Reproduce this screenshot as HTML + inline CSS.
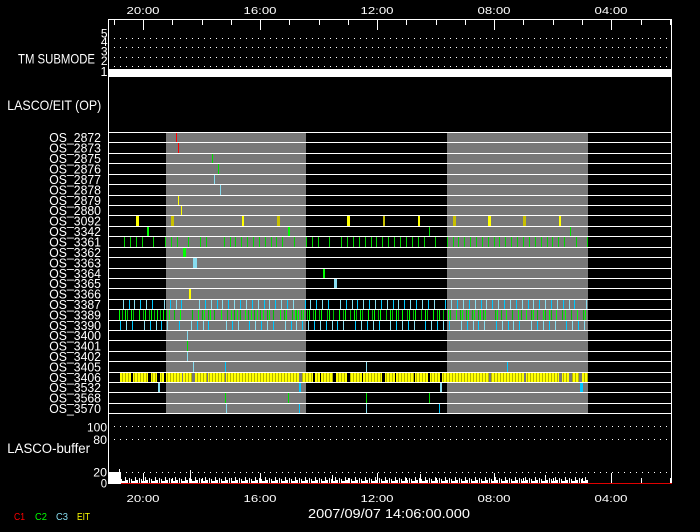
<!DOCTYPE html>
<html><head><meta charset="utf-8"><style>
html,body{margin:0;padding:0;background:#000;width:700px;height:532px;overflow:hidden}
svg{display:block}
text{font-family:"Liberation Sans",sans-serif;fill:#fff}
</style></head><body>
<svg width="700" height="532" viewBox="0 0 700 532" xmlns="http://www.w3.org/2000/svg">
<defs>
<pattern id="yp" x="0" y="0" width="3" height="20" patternUnits="userSpaceOnUse">
<rect x="0" y="0" width="2" height="20" fill="#ffff00"/><rect x="2" y="0" width="1" height="20" fill="#b4b400"/>
</pattern>
<pattern id="bp" x="121" y="476" width="10" height="7" patternUnits="userSpaceOnUse">
<rect x="0" y="3" width="1" height="4" fill="#fff"/>
<rect x="1" y="5" width="3" height="2" fill="#fff"/>
<rect x="4" y="1" width="1" height="6" fill="#fff"/>
<rect x="5" y="4" width="2" height="3" fill="#fff"/>
<rect x="8" y="2" width="1" height="5" fill="#fff"/>
</pattern>
</defs>
<rect width="700" height="532" fill="#000"/>

<!-- top tick labels -->
<text x="143" y="14" font-size="10.5" text-anchor="middle" textLength="33" lengthAdjust="spacingAndGlyphs">20:00</text>
<text x="260" y="14" font-size="10.5" text-anchor="middle" textLength="33" lengthAdjust="spacingAndGlyphs">16:00</text>
<text x="377" y="14" font-size="10.5" text-anchor="middle" textLength="33" lengthAdjust="spacingAndGlyphs">12:00</text>
<text x="494" y="14" font-size="10.5" text-anchor="middle" textLength="33" lengthAdjust="spacingAndGlyphs">08:00</text>
<text x="611" y="14" font-size="10.5" text-anchor="middle" textLength="33" lengthAdjust="spacingAndGlyphs">04:00</text>

<!-- frame -->
<rect x="108" y="19" width="564" height="1" fill="#fff"/>
<rect x="108" y="19" width="1" height="465" fill="#fff"/>
<rect x="671" y="19" width="1" height="465" fill="#fff"/>

<!-- top ticks -->
<path d="M143.5 20V30M260.5 20V30M377.5 20V30M494.5 20V30M611.5 20V30" stroke="#fff" stroke-width="1"/>
<path d="M114.5 20V25M172.5 20V25M202.5 20V25M231.5 20V25M289.5 20V25M319.5 20V25M348.5 20V25M406.5 20V25M436.5 20V25M465.5 20V25M523.5 20V25M553.5 20V25M582.5 20V25M641.5 20V25M670.5 20V25" stroke="#fff" stroke-width="1"/>

<!-- TM SUBMODE -->
<text x="18" y="63.3" font-size="13.5" textLength="77" lengthAdjust="spacingAndGlyphs">TM SUBMODE</text>
<text x="107.5" y="37.5" font-size="12" text-anchor="end">5</text>
<text x="107.5" y="46" font-size="12" text-anchor="end">4</text>
<text x="107.5" y="55.5" font-size="12" text-anchor="end">3</text>
<text x="107.5" y="65" font-size="12" text-anchor="end">2</text>
<text x="107.5" y="76" font-size="12.5" text-anchor="end">1</text>
<g stroke="#fff" stroke-width="1" stroke-dasharray="1 5">
<line x1="114" y1="38.5" x2="668" y2="38.5"/>
<line x1="114" y1="47.5" x2="668" y2="47.5"/>
<line x1="114" y1="57.5" x2="668" y2="57.5"/>
<line x1="114" y1="66.5" x2="668" y2="66.5"/>
</g>
<rect x="108" y="69" width="564" height="8" fill="#fff"/>

<text x="7.3" y="110" font-size="14" textLength="94" lengthAdjust="spacingAndGlyphs">LASCO/EIT (OP)</text>

<!-- gray shading -->
<rect x="166" y="132" width="140" height="281" fill="#787878"/>
<rect x="447" y="132" width="141" height="281" fill="#787878"/>

<!-- row lines -->
<path stroke="#fff" stroke-width="1" d="M108 132.5H671M108 142.5H671M108 153.5H671M108 163.5H671M108 174.5H671M108 184.5H671M108 195.5H671M108 205.5H671M108 215.5H671M108 226.5H671M108 236.5H671M108 247.5H671M108 257.5H671M108 268.5H671M108 278.5H671M108 288.5H671M108 299.5H671M108 309.5H671M108 320.5H671M108 330.5H671M108 340.5H671M108 351.5H671M108 361.5H671M108 372.5H671M108 382.5H671M108 392.5H671M108 403.5H671M108 413.5H671"/>

<!-- OS labels -->
<g font-size="12.5" text-anchor="end">
<text x="101" y="142" textLength="51.7" lengthAdjust="spacingAndGlyphs">OS_2872</text>
<text x="101" y="152.5" textLength="51.7" lengthAdjust="spacingAndGlyphs">OS_2873</text>
<text x="101" y="163" textLength="51.7" lengthAdjust="spacingAndGlyphs">OS_2875</text>
<text x="101" y="173.5" textLength="51.7" lengthAdjust="spacingAndGlyphs">OS_2876</text>
<text x="101" y="184" textLength="51.7" lengthAdjust="spacingAndGlyphs">OS_2877</text>
<text x="101" y="194.5" textLength="51.7" lengthAdjust="spacingAndGlyphs">OS_2878</text>
<text x="101" y="205" textLength="51.7" lengthAdjust="spacingAndGlyphs">OS_2879</text>
<text x="101" y="215" textLength="51.7" lengthAdjust="spacingAndGlyphs">OS_2880</text>
<text x="101" y="225.5" textLength="51.7" lengthAdjust="spacingAndGlyphs">OS_3092</text>
<text x="101" y="236" textLength="51.7" lengthAdjust="spacingAndGlyphs">OS_3342</text>
<text x="101" y="246.5" textLength="51.7" lengthAdjust="spacingAndGlyphs">OS_3361</text>
<text x="101" y="257" textLength="51.7" lengthAdjust="spacingAndGlyphs">OS_3362</text>
<text x="101" y="267.5" textLength="51.7" lengthAdjust="spacingAndGlyphs">OS_3363</text>
<text x="101" y="278" textLength="51.7" lengthAdjust="spacingAndGlyphs">OS_3364</text>
<text x="101" y="288" textLength="51.7" lengthAdjust="spacingAndGlyphs">OS_3365</text>
<text x="101" y="298.5" textLength="51.7" lengthAdjust="spacingAndGlyphs">OS_3366</text>
<text x="101" y="309" textLength="51.7" lengthAdjust="spacingAndGlyphs">OS_3387</text>
<text x="101" y="319.5" textLength="51.7" lengthAdjust="spacingAndGlyphs">OS_3389</text>
<text x="101" y="330" textLength="51.7" lengthAdjust="spacingAndGlyphs">OS_3390</text>
<text x="101" y="340" textLength="51.7" lengthAdjust="spacingAndGlyphs">OS_3400</text>
<text x="101" y="350.5" textLength="51.7" lengthAdjust="spacingAndGlyphs">OS_3401</text>
<text x="101" y="361" textLength="51.7" lengthAdjust="spacingAndGlyphs">OS_3402</text>
<text x="101" y="371.5" textLength="51.7" lengthAdjust="spacingAndGlyphs">OS_3405</text>
<text x="101" y="382" textLength="51.7" lengthAdjust="spacingAndGlyphs">OS_3406</text>
<text x="101" y="392" textLength="51.7" lengthAdjust="spacingAndGlyphs">OS_3532</text>
<text x="101" y="402.5" textLength="51.7" lengthAdjust="spacingAndGlyphs">OS_3568</text>
<text x="101" y="413" textLength="51.7" lengthAdjust="spacingAndGlyphs">OS_3570</text>
</g>

<!-- single marks -->
<path stroke="#ff0000" stroke-width="1" d="M176.5 133V142M178.5 143V153"/>
<path stroke="#00e000" stroke-width="1" d="M212.5 154V163M218.5 164V174M187.5 341V351M225.5 393V403M288.5 393V403M366.5 393V403M429.5 393V403M429.5 227V236M570.5 227V236"/>
<path stroke="#87dcef" stroke-width="1" d="M214.5 175V184M220.5 185V195M187.5 331V340M187.5 352V361M193.5 362V372M366.5 362V372M226.5 404V413M366.5 404V413"/>
<path stroke="#00c8ff" stroke-width="1" d="M225.5 362V372M507.5 362V372M299.5 404V413M439.5 404V413"/>
<path stroke="#ffff00" stroke-width="1" d="M178.5 196V205M181.5 206V215"/>

<!-- OS_3092 -->
<g fill="#ffff00"><rect x="136" y="216" width="3" height="10"/><rect x="242" y="216" width="2" height="10"/><rect x="347" y="216" width="3" height="10"/><rect x="418" y="216" width="2" height="10"/><rect x="488" y="216" width="3" height="10"/><rect x="559" y="216" width="2" height="10"/><rect x="189" y="289" width="2" height="10"/></g>
<g fill="#c8c000"><rect x="171" y="216" width="3" height="10"/><rect x="277" y="216" width="3" height="10"/><rect x="383" y="216" width="2" height="10"/><rect x="453" y="216" width="3" height="10"/><rect x="523" y="216" width="3" height="10"/></g>
<!-- thick marks -->
<g fill="#00ff00"><rect x="147" y="227" width="2" height="9"/><rect x="288" y="227" width="2" height="9"/><rect x="183" y="248" width="3" height="9"/><rect x="323" y="269" width="2" height="9"/></g>
<g fill="#87dcef"><rect x="193" y="258" width="4" height="10"/><rect x="334" y="279" width="3" height="9"/><rect x="158" y="383" width="2" height="9"/><rect x="440" y="383" width="2" height="9"/></g>
<g fill="#00c8ff"><rect x="299" y="383" width="2" height="9"/><rect x="580" y="383" width="3" height="9"/></g>

<!-- OS_3361 -->
<path stroke="#00d800" stroke-width="1" d="M124.5 237v10M130.5 237v10M136.5 237v10M142.5 237v10M153.5 237v10M165.5 237v10M171.5 237v10M177.5 237v10M188.5 237v10M200.5 237v10M206.5 237v10M224.5 237v10M230.5 237v10M235.5 237v10M241.5 237v10M247.5 237v10M253.5 237v10M259.5 237v10M265.5 237v10M271.5 237v10M276.5 237v10M282.5 237v10M294.5 237v10M306.5 237v10M312.5 237v10M318.5 237v10M329.5 237v10M341.5 237v10M347.5 237v10M353.5 237v10M359.5 237v10M365.5 237v10M371.5 237v10M376.5 237v10M382.5 237v10M388.5 237v10M394.5 237v10M400.5 237v10M406.5 237v10M412.5 237v10M418.5 237v10M424.5 237v10M435.5 237v10M447.5 237v10M453.5 237v10M458.5 237v10M464.5 237v10M470.5 237v10M476.5 237v10M482.5 237v10M488.5 237v10M494.5 237v10M499.5 237v10M505.5 237v10M511.5 237v10M517.5 237v10M523.5 237v10M529.5 237v10M535.5 237v10M541.5 237v10M547.5 237v10M552.5 237v10M558.5 237v10M564.5 237v10M576.5 237v10M587.5 237v10"/>

<!-- OS_3387 -->
<path stroke="#87dcef" stroke-width="1" d="M123.5 300v9M134.5 300v9M146.5 300v9M164.5 300v9M176.5 300v9M199.5 300v9M211.5 300v9M222.5 300v9M234.5 300v9M246.5 300v9M258.5 300v9M269.5 300v9M281.5 300v9M293.5 300v9M310.5 300v9M322.5 300v9M340.5 300v9M352.5 300v9M363.5 300v9M375.5 300v9M387.5 300v9M398.5 300v9M410.5 300v9M422.5 300v9M434.5 300v9M451.5 300v9M463.5 300v9M475.5 300v9M486.5 300v9M498.5 300v9M510.5 300v9M522.5 300v9M533.5 300v9M545.5 300v9M557.5 300v9M569.5 300v9M586.5 300v9"/>
<path stroke="#00c8ff" stroke-width="1" d="M129.5 300v9M140.5 300v9M152.5 300v9M170.5 300v9M181.5 300v9M205.5 300v9M217.5 300v9M228.5 300v9M240.5 300v9M252.5 300v9M264.5 300v9M275.5 300v9M287.5 300v9M305.5 300v9M316.5 300v9M328.5 300v9M346.5 300v9M357.5 300v9M369.5 300v9M381.5 300v9M393.5 300v9M404.5 300v9M416.5 300v9M428.5 300v9M445.5 300v9M457.5 300v9M469.5 300v9M481.5 300v9M492.5 300v9M504.5 300v9M516.5 300v9M528.5 300v9M539.5 300v9M551.5 300v9M563.5 300v9M574.5 300v9"/>

<!-- OS_3389 -->
<path stroke="#00ff00" stroke-width="1" d="M119.5 310v10M125.5 310v10M131.5 310v10M139.5 310v10M145.5 310v10M151.5 310v10M157.5 310v10M163.5 310v10M169.5 310v10M180.5 310v10M198.5 310v10M204.5 310v10M210.5 310v10M221.5 310v10M231.5 310v10M237.5 310v10M245.5 310v10M251.5 310v10M257.5 310v10M263.5 310v10M269.5 310v10M280.5 310v10M286.5 310v10M295.5 310v10M298.5 310v10M303.5 310v10M309.5 310v10M315.5 310v10M321.5 310v10M329.5 310v10M339.5 310v10M345.5 310v10M354.5 310v10M360.5 310v10M368.5 310v10M374.5 310v10M380.5 310v10M390.5 310v10M396.5 310v10M402.5 310v10M409.5 310v10M415.5 310v10M425.5 310v10M433.5 310v10M439.5 310v10M448.5 310v10M456.5 310v10M462.5 310v10M468.5 310v10M474.5 310v10M480.5 310v10M485.5 310v10M497.5 310v10M506.5 310v10M518.5 310v10M526.5 310v10M533.5 310v10M543.5 310v10M549.5 310v10M556.5 310v10M565.5 310v10M577.5 310v10M585.5 310v10"/>
<path stroke="#00c000" stroke-width="1" d="M122.5 310v10M127.5 310v10M133.5 310v10M143.5 310v10M149.5 310v10M154.5 310v10M160.5 310v10M166.5 310v10M174.5 310v10M192.5 310v10M202.5 310v10M208.5 310v10M214.5 310v10M227.5 310v10M234.5 310v10M240.5 310v10M248.5 310v10M254.5 310v10M260.5 310v10M267.5 310v10M273.5 310v10M284.5 310v10M292.5 310v10M296.5 310v10M301.5 310v10M307.5 310v10M313.5 310v10M319.5 310v10M327.5 310v10M333.5 310v10M343.5 310v10M350.5 310v10M356.5 310v10M362.5 310v10M372.5 310v10M378.5 310v10M386.5 310v10M392.5 310v10M398.5 310v10M407.5 310v10M413.5 310v10M421.5 310v10M427.5 310v10M437.5 310v10M443.5 310v10M450.5 310v10M460.5 310v10M466.5 310v10M472.5 310v10M478.5 310v10M483.5 310v10M495.5 310v10M501.5 310v10M512.5 310v10M521.5 310v10M531.5 310v10M537.5 310v10M545.5 310v10M551.5 310v10M562.5 310v10M571.5 310v10M583.5 310v10"/>

<!-- OS_3390 -->
<path stroke="#00c8ff" stroke-width="1" d="M120.5 321v9M132.5 321v9M150.5 321v9M161.5 321v9M179.5 321v9M197.5 321v9M208.5 321v9M232.5 321v9M249.5 321v9M261.5 321v9M273.5 321v9M291.5 321v9M302.5 321v9M314.5 321v9M326.5 321v9M337.5 321v9M355.5 321v9M367.5 321v9M379.5 321v9M396.5 321v9M408.5 321v9M425.5 321v9M437.5 321v9M449.5 321v9M467.5 321v9M478.5 321v9M496.5 321v9M508.5 321v9M519.5 321v9M537.5 321v9M549.5 321v9M566.5 321v9M578.5 321v9"/>
<path stroke="#87dcef" stroke-width="1" d="M126.5 321v9M144.5 321v9M156.5 321v9M167.5 321v9M191.5 321v9M203.5 321v9M226.5 321v9M238.5 321v9M255.5 321v9M267.5 321v9M285.5 321v9M296.5 321v9M308.5 321v9M320.5 321v9M332.5 321v9M343.5 321v9M361.5 321v9M373.5 321v9M390.5 321v9M402.5 321v9M414.5 321v9M431.5 321v9M443.5 321v9M461.5 321v9M473.5 321v9M484.5 321v9M502.5 321v9M513.5 321v9M531.5 321v9M543.5 321v9M555.5 321v9M572.5 321v9M584.5 321v9"/>

<!-- OS_3406 band -->
<rect x="120" y="373" width="468" height="9" fill="url(#yp)"/>
<g fill="#000"><rect x="131" y="373" width="2" height="9"/><rect x="148" y="373" width="3" height="9"/><rect x="157" y="373" width="3" height="9"/><rect x="164" y="373" width="2" height="9"/><rect x="313" y="373" width="2" height="9"/><rect x="320" y="373" width="1" height="9"/><rect x="333" y="373" width="3" height="9"/><rect x="347" y="373" width="3" height="9"/><rect x="362" y="373" width="1" height="9"/><rect x="382" y="373" width="3" height="9"/><rect x="395" y="373" width="1" height="9"/><rect x="414" y="373" width="1" height="9"/><rect x="428" y="373" width="2" height="9"/><rect x="440" y="373" width="2" height="9"/></g>
<g fill="#787878"><rect x="182" y="373" width="1" height="9"/><rect x="192" y="373" width="3" height="9"/><rect x="207" y="373" width="1" height="9"/><rect x="225" y="373" width="1" height="9"/><rect x="299" y="373" width="3" height="9"/><rect x="489" y="373" width="2" height="9"/><rect x="524" y="373" width="2" height="9"/><rect x="559" y="373" width="3" height="9"/><rect x="569" y="373" width="3" height="9"/><rect x="579" y="373" width="3" height="9"/></g>

<!-- LASCO buffer -->
<text x="107" y="431.7" font-size="12.3" text-anchor="end" textLength="20" lengthAdjust="spacingAndGlyphs">100</text>
<text x="107" y="444" font-size="12.3" text-anchor="end" textLength="13.7" lengthAdjust="spacingAndGlyphs">80</text>
<text x="107" y="476.7" font-size="12.3" text-anchor="end" textLength="13.7" lengthAdjust="spacingAndGlyphs">20</text>
<text x="107" y="487.3" font-size="12.3" text-anchor="end" textLength="6.3" lengthAdjust="spacingAndGlyphs">0</text>
<text x="7.3" y="453" font-size="13.5" textLength="82.7" lengthAdjust="spacingAndGlyphs">LASCO-buffer</text>
<g stroke="#fff" stroke-width="1" stroke-dasharray="1 5">
<line x1="114" y1="426.5" x2="668" y2="426.5"/>
<line x1="114" y1="439.5" x2="668" y2="439.5"/>
<line x1="114" y1="472.5" x2="668" y2="472.5"/>
</g>
<rect x="108" y="472" width="13" height="12" fill="#fff"/>
<rect x="119" y="469" width="1" height="4" fill="#fff"/>
<rect x="121" y="483" width="551" height="1" fill="#e00000"/>
<rect x="121" y="476" width="468" height="7" fill="url(#bp)"/>
<path stroke="#fff" stroke-width="1" d="M190.5 470V483M143.5 473V483M260.5 473V483M377.5 473V483M494.5 473V483M611.5 473V483M172.5 478V483M202.5 478V483M231.5 478V483M289.5 478V483M319.5 478V483M348.5 478V483M406.5 478V483M436.5 478V483M465.5 478V483M523.5 478V483M553.5 478V483M582.5 478V483M641.5 478V483M670.5 478V483M332.5 475V483M420.5 474V483M545.5 475V483"/>

<!-- bottom labels -->
<text x="143" y="502" font-size="10.5" text-anchor="middle" textLength="33" lengthAdjust="spacingAndGlyphs">20:00</text>
<text x="260" y="502" font-size="10.5" text-anchor="middle" textLength="33" lengthAdjust="spacingAndGlyphs">16:00</text>
<text x="377" y="502" font-size="10.5" text-anchor="middle" textLength="33" lengthAdjust="spacingAndGlyphs">12:00</text>
<text x="494" y="502" font-size="10.5" text-anchor="middle" textLength="33" lengthAdjust="spacingAndGlyphs">08:00</text>
<text x="611" y="502" font-size="10.5" text-anchor="middle" textLength="33" lengthAdjust="spacingAndGlyphs">04:00</text>
<text x="308" y="518" font-size="12.5" textLength="162" lengthAdjust="spacingAndGlyphs">2007/09/07 14:06:00.000</text>

<!-- legend -->
<text x="14" y="520" font-size="10" textLength="11" lengthAdjust="spacingAndGlyphs" style="fill:#ff0000">C1</text>
<text x="35" y="520" font-size="10" textLength="12" lengthAdjust="spacingAndGlyphs" style="fill:#00ff00">C2</text>
<text x="56" y="520" font-size="10" textLength="12" lengthAdjust="spacingAndGlyphs" style="fill:#87dcef">C3</text>
<text x="77" y="520" font-size="10" textLength="13" lengthAdjust="spacingAndGlyphs" style="fill:#ffff00">EIT</text>
</svg>
</body></html>
